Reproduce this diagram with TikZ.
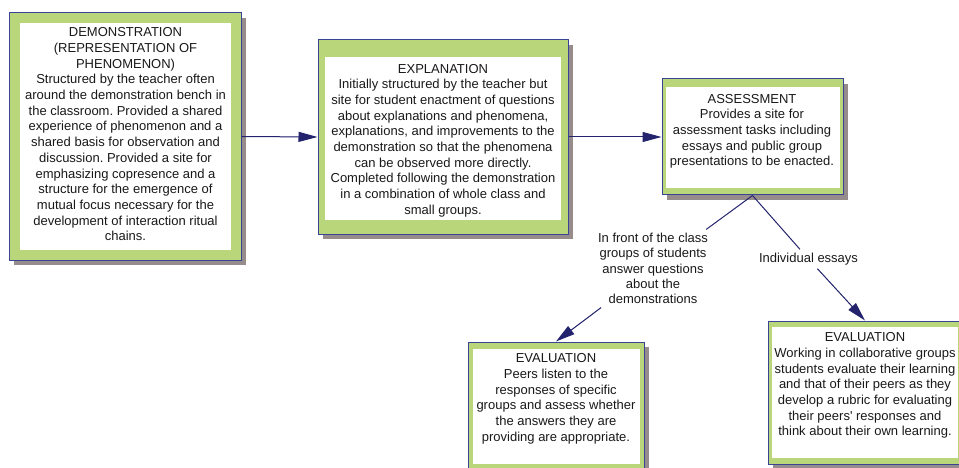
\documentclass[tikz,border=0pt]{standalone}
\usepackage{fontspec}
\setmainfont{Liberation Sans}
\usetikzlibrary{arrows.meta,shadows}
\definecolor{boxgreen}{RGB}{186,214,122}
\definecolor{boxblue}{RGB}{58,68,150}
\definecolor{shadowgray}{RGB}{150,140,140}
\definecolor{linknavy}{RGB}{35,35,110}
\definecolor{textgray}{RGB}{25,25,25}
\frenchspacing
\begin{document}
\begin{tikzpicture}[x=1pt, y=-1pt,
        stagebox/.style={draw=boxblue, fill=boxgreen, line width=1pt, inner sep=0pt,
            drop shadow={shadow xshift=5pt, shadow yshift=-5pt, fill=shadowgray, opacity=1}},
        stagesheet/.style={fill=white, inner sep=0pt},
        stagetext/.style={text=textgray, align=center, anchor=north, inner sep=0pt,
            font=\fontsize{13}{15.67}\selectfont},
        linklabel/.style={text=textgray, align=center, inner sep=3.5pt,
            font=\fontsize{13}{15.3}\selectfont},
        link/.style={draw=linknavy, line width=1pt},
        flow/.style={link, fill=linknavy, -{Triangle[length=19pt, width=10pt]}}]
    \useasboundingbox (0, 0) rectangle (959, 468);

    \node[stagebox, minimum width=232pt, minimum height=247pt] (demo) at (125, 136.5) {};
    \node[stagesheet, minimum width=211pt, minimum height=227pt] (demosheet) at (125.5, 136.5) {};
    \node[stagetext] (demotext) at (125.5, 27.7) {DEMONSTRATION\\(REPRESENTATION OF\\PHENOMENON)\\
        Structured by the teacher often\\around the demonstration bench in\\
        the classroom. Provided a shared\\experience of phenomenon and a\\
        shared basis for observation and\\discussion. Provided a site for\\
        emphasizing copresence and a\\structure for the emergence of\\
        mutual focus necessary for the\\development of interaction ritual\\chains.};

    \node[stagebox, minimum width=250pt, minimum height=194pt] (expl) at (443, 137) {};
    \node[stagesheet, minimum width=236pt, minimum height=163pt] (explsheet) at (443, 138.5) {};
    \node[stagetext] (expltext) at (443, 64) {EXPLANATION\\
        Initially structured by the teacher but\\site for student enactment of questions\\
        about explanations and phenomena,\\explanations, and improvements to the\\
        demonstration so that the phenomena\\can be observed more directly.\\
        Completed following the demonstration\\in a combination of whole class and\\
        small groups.};

    \node[stagebox, minimum width=181pt, minimum height=116pt] (assess) at (752.5, 137) {};
    \node[stagesheet, minimum width=174pt, minimum height=101pt] (assesssheet) at (753, 137.5) {};
    \node[stagetext] (assesstext) at (752, 94) {ASSESSMENT\\Provides a site for\\
        assessment tasks including\\essays and public group\\presentations to be enacted.};

    \node[stagebox, minimum width=176pt, minimum height=128pt] (peers) at (556, 406) {};
    \node[stagesheet, minimum width=167pt, minimum height=115pt] (peerssheet) at (556.5, 406) {};
    \node[stagetext] (peerstext) at (556, 353.7) {EVALUATION\\Peers listen to the\\
        responses of specific\\groups and assess whether\\the answers they are\\
        providing are appropriate.};

    \node[stagebox, minimum width=194pt, minimum height=143pt] (collab) at (865, 392.5) {};
    \node[stagesheet, minimum width=186pt, minimum height=130.5pt] (collabsheet) at (865, 392.25) {};
    \node[stagetext] (collabtext) at (865, 332.6) {EVALUATION\\Working in collaborative groups\\
        students evaluate their learning\\and that of their peers as they\\
        develop a rubric for evaluating\\their peers\textquotesingle{} responses and\\
        think about their own learning.};

    \node[linklabel] (infront) at (653, 268.5) {In front of the class\\groups of students\\
        answer questions\\about the\\demonstrations};
    \node[linklabel] (essays) at (808.5, 259) {Individual essays};

    \draw[flow] (demo.east) -- (expl.west);
    \draw[flow] (expl.east) -- (assess.west);
    \draw[link] (assess.south) -- (infront);
    \draw[flow] (infront) -- (peers.north);
    \draw[link] (assess.south) -- (essays);
    \draw[flow] (essays) -- (collab.north);
\end{tikzpicture}
\end{document}
